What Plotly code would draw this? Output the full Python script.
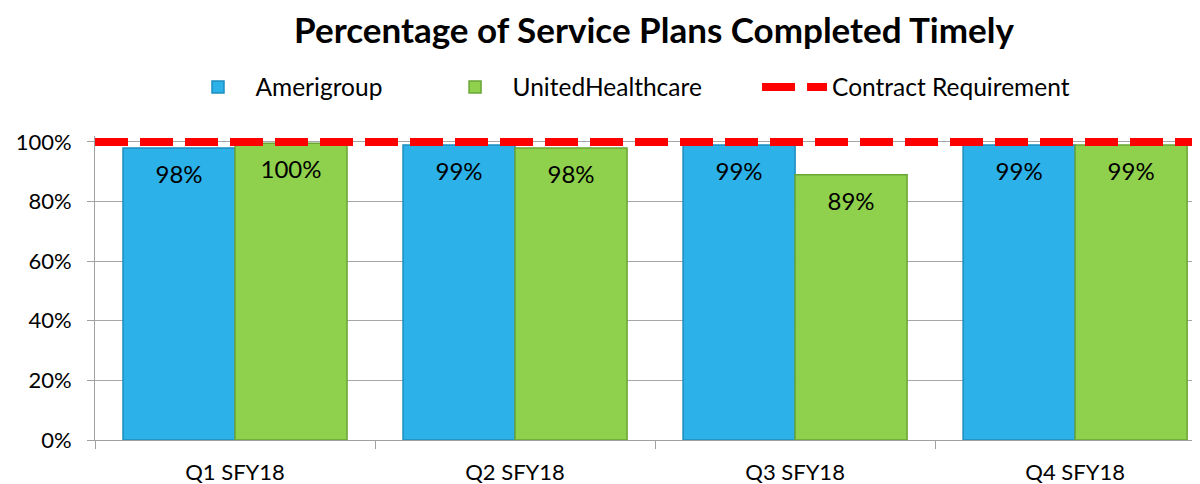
import plotly.graph_objects as go

categories = ["Q1 SFY18", "Q2 SFY18", "Q3 SFY18", "Q4 SFY18"]
amerigroup = [98, 99, 99, 99]
united = [99.6, 98, 89, 99]
requirement = 100
y_ticks = [0, 20, 40, 60, 80, 100]
y_tick_labels = ["0%", "20%", "40%", "60%", "80%", "100%"]

FONT = "Lato"
SP = "\u00a0"

fig = go.Figure()
fig.add_bar(
    name="Amerigroup" + SP * 8, x=categories, y=amerigroup,
    marker=dict(color="#2CB2E9", line=dict(color="#1C8DBF", width=1.5)),
)
fig.add_bar(
    name="UnitedHealthcare" + SP * 8, x=categories, y=united,
    marker=dict(color="#8FD14C", line=dict(color="#6AA536", width=1.5)),
)
for vals in (amerigroup, united):
    fig.add_scatter(
        x=categories, y=vals, mode="markers+text", showlegend=False,
        marker=dict(size=26, opacity=0), hoverinfo="skip",
        text=[f"{v:.0f}%" for v in vals], textposition="bottom center",
        textfont=dict(size=24, color="black", family=FONT),
    )
fig.add_scatter(
    name="Contract Requirement", x=[0, 1], y=[requirement, requirement],
    xaxis="x2", mode="lines",
    line=dict(color="#FF0000", width=8, dash="33px,12px"),
)

fig.update_layout(
    width=1200, height=484,
    margin=dict(l=87, r=8, t=128, b=52),
    paper_bgcolor="white", plot_bgcolor="white",
    font=dict(family=FONT, size=20, color="black"),
    barmode="group", bargap=0.2, bargroupgap=0,
    scattermode="group", scattergap=0.2,
    title=dict(text="<b>Percentage of Service Plans Completed Timely</b>",
               font=dict(size=35, family=FONT, color="black"),
               x=646 / 1200, xref="container", xanchor="center",
               y=1 - 23 / 484, yref="container", yanchor="middle"),
    legend=dict(orientation="h", x=620 / 1200, xref="container", xanchor="center",
                y=1 - 79 / 484, yref="container", yanchor="middle",
                font=dict(size=24.5, family=FONT), traceorder="normal",
                itemwidth=65),
    xaxis=dict(type="category", range=[-0.5, 3.446], tickson="boundaries",
               ticks="outside", ticklen=8, tickcolor="#A0A0A0",
               showline=True, linecolor="#A0A0A0", showgrid=False,
               tickfont=dict(size=22), ticklabelstandoff=13, automargin=False),
    xaxis2=dict(overlaying="x", range=[0, 1], visible=False),
    yaxis=dict(range=[0, 102], tickvals=y_ticks, ticktext=y_tick_labels,
               showgrid=True, gridcolor="#A6A6A6", gridwidth=1,
               showline=True, linecolor="#A0A0A0", ticks="outside",
               ticklen=7, tickcolor="#A0A0A0", tickfont=dict(size=22),
               ticklabelstandoff=11, zeroline=False, automargin=False),
)

fig.write_html("out.html")
